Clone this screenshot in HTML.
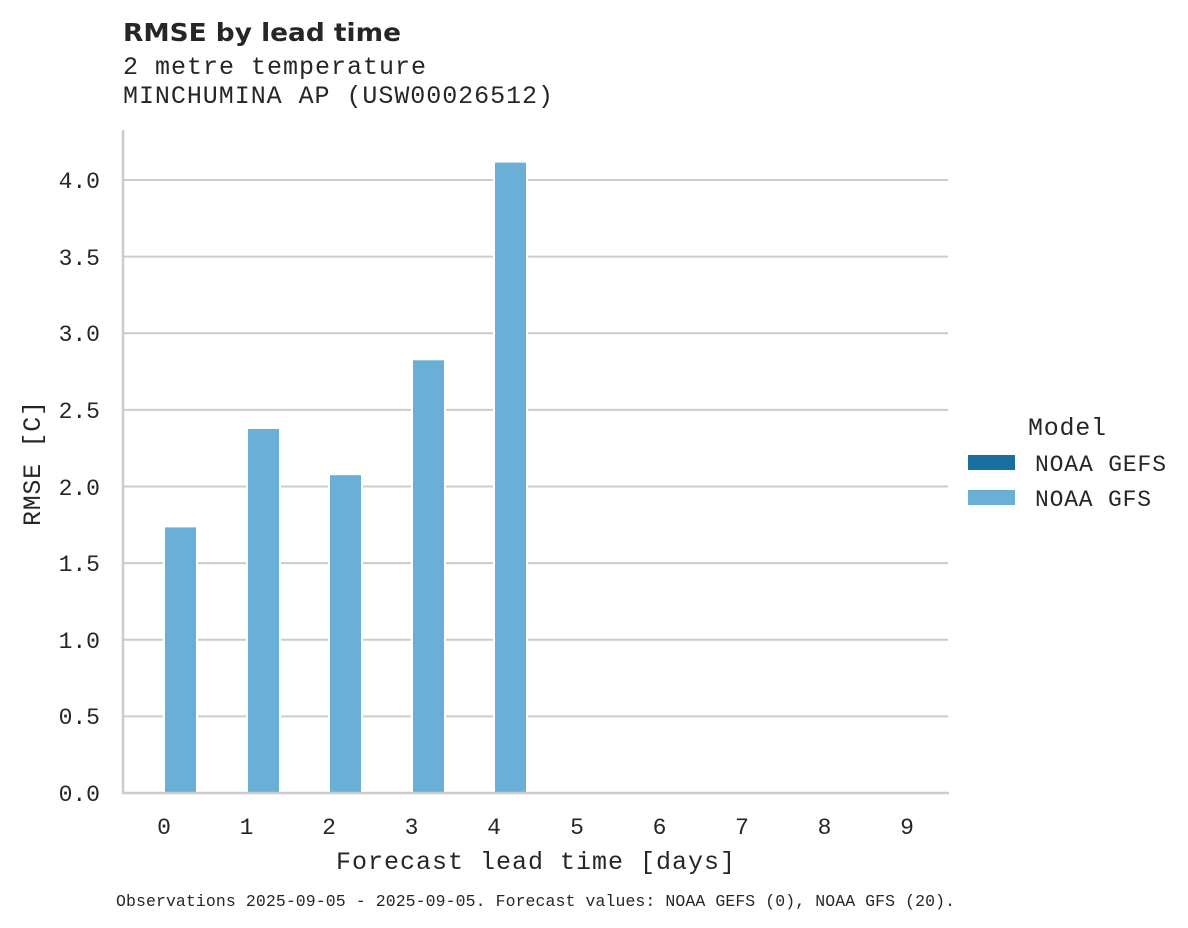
<!DOCTYPE html>
<html><head><meta charset="utf-8"><style>body{margin:0;background:#fff}svg{display:block}</style></head>
<body>
<svg width="1188" height="928" xmlns="http://www.w3.org/2000/svg" font-family="Liberation Mono, monospace" fill="#262626">
<text x="123" y="41" font-family="DejaVu Sans, sans-serif" font-weight="bold" font-size="25" textLength="278" lengthAdjust="spacingAndGlyphs">RMSE by lead time</text>
<text x="123" y="74" font-size="25" textLength="303">2 metre temperature</text>
<text x="123" y="103" font-size="25" textLength="430">MINCHUMINA AP (USW00026512)</text>
<g stroke="#cccccc" stroke-width="2">
<line x1="123" x2="948" y1="716.4" y2="716.4"/><line x1="123" x2="948" y1="639.75" y2="639.75"/>
<line x1="123" x2="948" y1="563.1" y2="563.1"/><line x1="123" x2="948" y1="486.5" y2="486.5"/>
<line x1="123" x2="948" y1="409.9" y2="409.9"/><line x1="123" x2="948" y1="333.25" y2="333.25"/>
<line x1="123" x2="948" y1="256.6" y2="256.6"/><line x1="123" x2="948" y1="180" y2="180"/>
</g>
<g fill="#6aafd6" stroke="#fff" stroke-width="2">
<rect x="164" y="526.4" width="33" height="266.6"/>
<rect x="247" y="428" width="33" height="365"/>
<rect x="329" y="474.2" width="33" height="318.8"/>
<rect x="412" y="359.3" width="33" height="433.7"/>
<rect x="494" y="161.6" width="33" height="631.4"/>
</g>
<g stroke="#cccccc" stroke-width="2.5"><line x1="123" y1="130" x2="123" y2="794"/><line x1="122" y1="793" x2="949" y2="793"/></g>
<g font-size="23" text-anchor="end">
<text x="100" y="801">0.0</text><text x="100" y="724">0.5</text><text x="100" y="648">1.0</text>
<text x="100" y="571">1.5</text><text x="100" y="495">2.0</text><text x="100" y="418">2.5</text>
<text x="100" y="341">3.0</text><text x="100" y="265">3.5</text><text x="100" y="188">4.0</text>
</g>
<g font-size="23" text-anchor="middle">
<text x="164" y="834">0</text><text x="246.5" y="834">1</text><text x="329" y="834">2</text>
<text x="411.5" y="834">3</text><text x="494" y="834">4</text><text x="577" y="834">5</text>
<text x="659.5" y="834">6</text><text x="742" y="834">7</text><text x="824.5" y="834">8</text>
<text x="907" y="834">9</text>
</g>
<text x="336" y="869" font-size="25" textLength="399">Forecast lead time [days]</text>
<text transform="translate(40,526) rotate(-90)" font-size="25" textLength="125">RMSE [C]</text>
<text x="1028" y="435" font-size="25" textLength="78">Model</text>
<rect x="968" y="455" width="47" height="15" fill="#1a6fa0"/>
<rect x="968" y="490" width="47" height="15" fill="#6aafd6"/>
<text x="1035" y="471" font-size="23" textLength="131">NOAA GEFS</text>
<text x="1035" y="506" font-size="23" textLength="116">NOAA GFS</text>
<text x="116" y="906" font-size="16.5" textLength="839">Observations 2025-09-05 - 2025-09-05. Forecast values: NOAA GEFS (0), NOAA GFS (20).</text>
</svg>
</body></html>
